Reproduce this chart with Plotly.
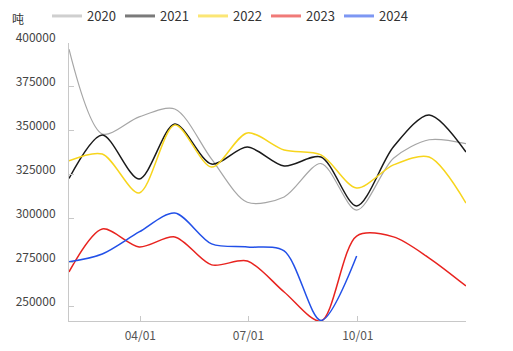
import plotly.graph_objects as go

dates = ["2021-01-31", "2021-02-28", "2021-03-31", "2021-04-30", "2021-05-31", "2021-06-30",
         "2021-07-31", "2021-08-31", "2021-09-30", "2021-10-31", "2021-11-30", "2021-12-31"]

s2020 = [396500, 348300, 358000, 362500, 334000, 309500, 312500, 331500, 305000, 334500, 345000, 342800]
s2021 = [323000, 347700, 322700, 354000, 331200, 340900, 330100, 335200, 307400, 341000, 359100, 338000]
s2022 = [333000, 336900, 314800, 353400, 329500, 348900, 339200, 336400, 317600, 330700, 335200, 309000]
s2023 = [269900, 294300, 284100, 289800, 273900, 276100, 258500, 242000, 290300, 289800, 277800, 261900]
s2024 = [275600, 280100, 292600, 303400, 285800, 284100, 281800, 242300, 278900]

names = ["2020", "2021", "2022", "2023", "2024"]
series = [s2020, s2021, s2022, s2023, s2024]
line_colors = ["#a6a6a6", "#1a1a1a", "#f7d51d", "#e8231f", "#2250e8"]
legend_colors = ["#cfcfcf", "#7a7a7a", "#fbe675", "#f07a78", "#7d97f3"]
line_widths = [1.2, 1.5, 1.5, 1.5, 1.5]

ytick_vals = [250000, 275000, 300000, 325000, 350000, 375000, 400000]
xtick_vals = ["2021-04-01", "2021-07-01", "2021-10-01"]
xtick_text = ["04/01", "07/01", "10/01"]

fig = go.Figure()
for name, vals, c, w in zip(names, series, line_colors, line_widths):
    fig.add_trace(go.Scatter(x=dates[:len(vals)], y=vals, mode="lines", name=name,
                             line=dict(color=c, width=w, shape="spline", smoothing=0.85),
                             showlegend=False, hoverinfo="skip"))
for name, c in zip(names, legend_colors):
    fig.add_trace(go.Scatter(x=[None], y=[None], mode="lines", name=name,
                             line=dict(color=c, width=3), showlegend=True))

fig.update_layout(
    width=513, height=351,
    margin=dict(l=69, r=47, t=43, b=30, autoexpand=False),
    plot_bgcolor="white", paper_bgcolor="white",
    font=dict(family="Noto Sans CJK SC, Noto Sans, sans-serif", size=12, color="#555"),
    legend=dict(orientation="h", xref="container", yref="container", x=47/513, y=1 - 1/351,
                xanchor="left", yanchor="top", entrywidth=28, entrywidthmode="pixels",
                font=dict(size=13, color="#333"), bgcolor="rgba(0,0,0,0)"),
    xaxis=dict(range=[dates[0], dates[-1]], tickvals=xtick_vals, ticktext=xtick_text,
               showgrid=False, zeroline=False, showline=True, linecolor="#c8c8c8", linewidth=1,
               ticks="inside", ticklen=5, tickcolor="#c8c8c8", ticklabelstandoff=4,
               tickfont=dict(size=12, color="#555")),
    yaxis=dict(range=[242000, 400000], tickvals=ytick_vals, tickformat="d",
               showgrid=False, zeroline=False, showline=True, linecolor="#c8c8c8", linewidth=1,
               ticks="inside", ticklen=5, tickcolor="#c8c8c8", ticklabelshift=-5,
               ticklabelstandoff=10, tickfont=dict(size=12, color="#444")),
    annotations=[dict(text="吨", xref="paper", yref="paper", x=-0.148, y=1.05, xanchor="left",
                      yanchor="bottom", showarrow=False, font=dict(size=12, color="#333"))],
)

fig.write_html("out.html")
